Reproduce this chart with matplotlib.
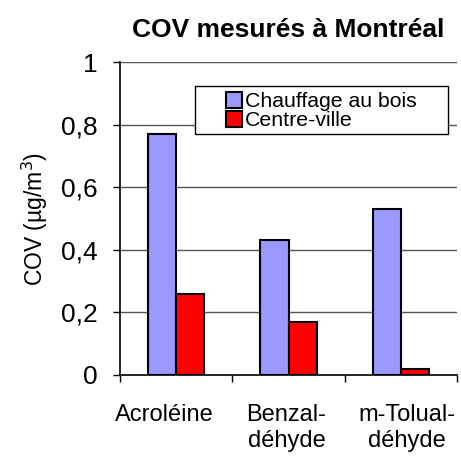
import matplotlib
matplotlib.use('Agg')
import matplotlib.pyplot as plt
import matplotlib.transforms as mtransforms
from matplotlib.patches import Rectangle, Patch
import numpy as np

# data
categories = ['Acroléine', 'Benzal-\ndéhyde', 'm-Tolual-\ndéhyde']
chauffage = [0.77, 0.43, 0.53]
centre_ville = [0.26, 0.17, 0.02]
series_names = ['Chauffage au bois', 'Centre-ville']
yticks = [0, 0.2, 0.4, 0.6, 0.8, 1]
ytick_labels = ['0', '0,2', '0,4', '0,6', '0,8', '1']

plt.rcParams['font.family'] = ['Liberation Sans', 'DejaVu Sans']

fig = plt.figure(figsize=(4.61, 4.58), dpi=100)
ax = fig.add_axes([120/461, 1 - 375/458, 337/461, 313/458])

x = np.arange(len(categories))
w = 0.25
ax.bar(x - w/2, chauffage, w, color='#9999ff', edgecolor='black', linewidth=1.5, zorder=3)
ax.bar(x + w/2, centre_ville, w, color='#ff0000', edgecolor='black', linewidth=1.5, zorder=3)

ax.set_xlim(-0.5, 2.5)
ax.set_ylim(0, 1)
ax.set_yticks(yticks)
ax.set_yticklabels(ytick_labels, fontsize=19)
for yv in yticks[1:]:
    ax.axhline(yv, color='#555555', linewidth=1, zorder=1)

# ticks at category boundaries, labels at centres
ax.set_xticks([-0.5, 0.5, 1.5, 2.5])
ax.set_xticklabels([])
ax.set_xticks(x, minor=True)
ax.set_xticklabels(categories, minor=True, fontsize=17, linespacing=1.2)
ax.tick_params(axis='x', which='minor', length=0, pad=21)
ax.tick_params(axis='x', which='major', direction='out', length=5, width=1)
ax.tick_params(axis='y', direction='out', length=5, width=1, pad=11)

# small horizontal nudges so the labels sit like in the original
nudges = [-12, -2, 6]
for lab, dx in zip(ax.get_xticklabels(minor=True), nudges):
    lab.set_transform(lab.get_transform() + mtransforms.ScaledTranslation(dx/100, 0, fig.dpi_scale_trans))

for s in ['top', 'right']:
    ax.spines[s].set_visible(False)
ax.spines['left'].set_linewidth(1.2)
ax.spines['bottom'].set_linewidth(1.2)

ax.set_ylabel('COV (µg/m$^3$)', fontsize=16.5, labelpad=8)
ax.set_title('COV mesurés à Montréal', fontsize=19, fontweight='bold', pad=18)

# legend with a wide frame like the original
ax.add_patch(Rectangle((75/337, 1 - 72/313), 253/337, 48/313, transform=ax.transAxes,
                       facecolor='white', edgecolor='black', linewidth=1, zorder=4))
handles = [Patch(facecolor='#9999ff', edgecolor='black', linewidth=1.5),
           Patch(facecolor='#ff0000', edgecolor='black', linewidth=1.5)]
leg = ax.legend(handles, series_names, loc='upper left', bbox_to_anchor=(106/337, 1 - 30/313),
                frameon=False, fontsize=15.3, handlelength=0.75, handleheight=0.75,
                handletextpad=0.15, labelspacing=0.0, borderpad=0, borderaxespad=0)
leg.set_zorder(5)

fig.savefig('out.png', dpi=100)
